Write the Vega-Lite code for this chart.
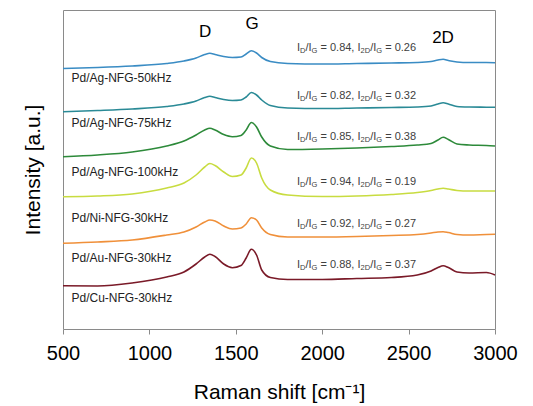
{
  "$schema": "https://vega.github.io/schema/vega-lite/v6.json",
  "autosize": "none",
  "width": 432,
  "height": 319,
  "padding": {"left": 63, "top": 10, "right": 38, "bottom": 77},
  "background": "white",
  "config": {"view": {"stroke": "#8a8a8a", "strokeWidth": 1}, "font": "Liberation Sans"},
  "datasets": {
    "spectra": [
      {"shift": 500, "ag50": 260.5, "ag75": 217.3, "ag100": 172.3, "ni": 132.3, "au": 85.7, "cu": 43.3},
      {"shift": 700, "ag50": 261.5, "ag75": 218.5, "ag100": 174, "ni": 133, "au": 87, "cu": 43},
      {"shift": 900, "ag50": 263, "ag75": 220, "ag100": 177, "ni": 135, "au": 89, "cu": 46},
      {"shift": 1100, "ag50": 265.5, "ag75": 222.5, "ag100": 183, "ni": 141, "au": 94, "cu": 52},
      {"shift": 1200, "ag50": 268, "ag75": 225, "ag100": 188, "ni": 146, "au": 97, "cu": 57},
      {"shift": 1270, "ag50": 271, "ag75": 228, "ag100": 194, "ni": 154, "au": 102, "cu": 65},
      {"shift": 1320, "ag50": 274.5, "ag75": 231.5, "ag100": 199, "ni": 162, "au": 107, "cu": 72},
      {"shift": 1350, "ag50": 275.7, "ag75": 232.7, "ag100": 200.7, "ni": 165.5, "au": 109, "cu": 74.7},
      {"shift": 1380, "ag50": 274.5, "ag75": 231.5, "ag100": 199, "ni": 163.5, "au": 108, "cu": 72.5},
      {"shift": 1430, "ag50": 272.5, "ag75": 229.5, "ag100": 194.5, "ni": 157, "au": 103, "cu": 65},
      {"shift": 1480, "ag50": 271.5, "ag75": 228.5, "ag100": 192.3, "ni": 152.5, "au": 100, "cu": 61.3},
      {"shift": 1530, "ag50": 272, "ag75": 229, "ag100": 193.5, "ni": 154, "au": 101, "cu": 63.5},
      {"shift": 1560, "ag50": 275, "ag75": 232, "ag100": 199, "ni": 161, "au": 105, "cu": 71},
      {"shift": 1590, "ag50": 278.2, "ag75": 236.5, "ag100": 206.5, "ni": 171, "au": 111.3, "cu": 79.7},
      {"shift": 1620, "ag50": 276, "ag75": 234, "ag100": 202, "ni": 166, "au": 109, "cu": 74},
      {"shift": 1650, "ag50": 271.5, "ag75": 229, "ag100": 192, "ni": 151, "au": 101, "cu": 59},
      {"shift": 1700, "ag50": 267.5, "ag75": 223.5, "ag100": 183, "ni": 139, "au": 94.5, "cu": 51.5},
      {"shift": 1800, "ag50": 265.5, "ag75": 221, "ag100": 179.5, "ni": 134, "au": 92, "cu": 49.5},
      {"shift": 2000, "ag50": 265, "ag75": 220.5, "ag100": 180, "ni": 132.5, "au": 92, "cu": 49.5},
      {"shift": 2200, "ag50": 265.5, "ag75": 221, "ag100": 181, "ni": 133, "au": 92.5, "cu": 50.5},
      {"shift": 2400, "ag50": 266, "ag75": 221.5, "ag100": 182.5, "ni": 134.5, "au": 93.5, "cu": 51.5},
      {"shift": 2550, "ag50": 266.5, "ag75": 222, "ag100": 184, "ni": 136.5, "au": 94.5, "cu": 54},
      {"shift": 2630, "ag50": 267.5, "ag75": 223, "ag100": 185.5, "ni": 138.5, "au": 96, "cu": 58},
      {"shift": 2670, "ag50": 269, "ag75": 225, "ag100": 189, "ni": 140, "au": 97, "cu": 61.5},
      {"shift": 2700, "ag50": 269.7, "ag75": 226.3, "ag100": 191.7, "ni": 140.7, "au": 97.3, "cu": 63.3},
      {"shift": 2730, "ag50": 268.5, "ag75": 225, "ag100": 189.5, "ni": 140, "au": 96.5, "cu": 61.5},
      {"shift": 2780, "ag50": 267, "ag75": 222.5, "ag100": 185, "ni": 138.5, "au": 94.5, "cu": 57},
      {"shift": 2850, "ag50": 266.5, "ag75": 222, "ag100": 184, "ni": 138, "au": 94, "cu": 56},
      {"shift": 2950, "ag50": 266.5, "ag75": 221.8, "ag100": 183.5, "ni": 138, "au": 94.5, "cu": 56.5},
      {"shift": 3000, "ag50": 266.3, "ag75": 221.7, "ag100": 183, "ni": 138, "au": 94.7, "cu": 54}
    ],
    "samples": [
      {"label": "Pd/Ag-NFG-50kHz", "shift": 549, "intensity": 251},
      {"label": "Pd/Ag-NFG-75kHz", "shift": 549, "intensity": 206},
      {"label": "Pd/Ag-NFG-100kHz", "shift": 549, "intensity": 157},
      {"label": "Pd/Ni-NFG-30kHz", "shift": 549, "intensity": 111.5},
      {"label": "Pd/Au-NFG-30kHz", "shift": 549, "intensity": 71.3},
      {"label": "Pd/Cu-NFG-30kHz", "shift": 549, "intensity": 31}
    ],
    "peaks": [
      {"label": "D", "shift": 1322, "intensity": 297},
      {"label": "G", "shift": 1594, "intensity": 305},
      {"label": "2D", "shift": 2699, "intensity": 291}
    ],
    "ratios": [
      {"shift": 1854, "intensity": 281, "mid": "= 0.84, I", "end": "= 0.26"},
      {"shift": 1854, "intensity": 233, "mid": "= 0.82, I", "end": "= 0.32"},
      {"shift": 1854, "intensity": 191.7, "mid": "= 0.85, I", "end": "= 0.38"},
      {"shift": 1854, "intensity": 146.7, "mid": "= 0.94, I", "end": "= 0.19"},
      {"shift": 1854, "intensity": 104.7, "mid": "= 0.92, I", "end": "= 0.27"},
      {"shift": 1854, "intensity": 64, "mid": "= 0.88, I", "end": "= 0.37"}
    ]
  },
  "layer": [
    {
      "data": {"name": "spectra"},
      "transform": [{"fold": ["ag50", "ag75", "ag100", "ni", "au", "cu"], "as": ["sample", "intensity"]}],
      "mark": {"type": "line", "strokeWidth": 1.6, "interpolate": "monotone"},
      "encoding": {
        "x": {
          "field": "shift", "type": "quantitative",
          "scale": {"domain": [500, 3000], "nice": false, "zero": false},
          "axis": {
            "title": "Raman shift [cm⁻¹]", "values": [500, 1000, 1500, 2000, 2500, 3000], "format": "d",
            "grid": false, "domain": false, "tickColor": "#8a8a8a", "tickSize": 5,
            "labelFontSize": 20, "labelColor": "#000", "labelPadding": 9, "labelFlush": false,
            "labelFont": "Liberation Sans", "titleFont": "Liberation Sans",
            "titleFontSize": 21, "titleFontWeight": "normal", "titleColor": "#000", "titlePadding": 18
          }
        },
        "y": {
          "field": "intensity", "type": "quantitative",
          "scale": {"domain": [0, 319], "nice": false, "zero": false},
          "axis": {
            "title": "Intensity [a.u.]", "grid": false, "domain": false, "ticks": false, "labels": false,
            "titleFont": "Liberation Sans", "titleFontSize": 21, "titleFontWeight": "normal",
            "titleColor": "#000", "titlePadding": 20
          }
        },
        "color": {
          "field": "sample", "type": "nominal",
          "scale": {"domain": ["ag50", "ag75", "ag100", "ni", "au", "cu"],
                    "range": ["#3a8cc4", "#2a8a96", "#2d8a3a", "#c8dc40", "#f0903a", "#7a1a28"]},
          "legend": null
        },
        "detail": {"field": "sample"}
      }
    },
    {
      "data": {"name": "samples"},
      "mark": {"type": "text", "align": "left", "baseline": "middle", "fontSize": 12, "font": "Liberation Sans", "color": "#222"},
      "encoding": {
        "x": {"field": "shift", "type": "quantitative"},
        "y": {"field": "intensity", "type": "quantitative"},
        "text": {"field": "label"}
      }
    },
    {
      "data": {"name": "peaks"},
      "mark": {"type": "text", "align": "center", "baseline": "middle", "fontSize": 17, "font": "Liberation Sans", "color": "#000"},
      "encoding": {
        "x": {"field": "shift", "type": "quantitative"},
        "y": {"field": "intensity", "type": "quantitative"},
        "text": {"field": "label"}
      }
    },
    {
      "data": {"name": "ratios"},
      "encoding": {
        "x": {"field": "shift", "type": "quantitative"},
        "y": {"field": "intensity", "type": "quantitative"}
      },
      "layer": [
        {"mark": {"type": "text", "text": "I", "align": "left", "baseline": "middle", "fontSize": 11, "font": "Liberation Sans", "color": "#404040", "dx": 0}},
        {"mark": {"type": "text", "text": "D", "align": "left", "baseline": "middle", "fontSize": 7.5, "font": "Liberation Sans", "color": "#404040", "dx": 3.06, "dy": 3}},
        {"mark": {"type": "text", "text": "/I", "align": "left", "baseline": "middle", "fontSize": 11, "font": "Liberation Sans", "color": "#404040", "dx": 8.48}},
        {"mark": {"type": "text", "text": "G", "align": "left", "baseline": "middle", "fontSize": 7.5, "font": "Liberation Sans", "color": "#404040", "dx": 14.6, "dy": 3}},
        {"mark": {"type": "text", "align": "left", "baseline": "middle", "fontSize": 11, "font": "Liberation Sans", "color": "#404040", "dx": 23.5}, "encoding": {"text": {"field": "mid"}}},
        {"mark": {"type": "text", "text": "2D", "align": "left", "baseline": "middle", "fontSize": 7.5, "font": "Liberation Sans", "color": "#404040", "dx": 63.58, "dy": 3}},
        {"mark": {"type": "text", "text": "/I", "align": "left", "baseline": "middle", "fontSize": 11, "font": "Liberation Sans", "color": "#404040", "dx": 73.17}},
        {"mark": {"type": "text", "text": "G", "align": "left", "baseline": "middle", "fontSize": 7.5, "font": "Liberation Sans", "color": "#404040", "dx": 79.29, "dy": 3}},
        {"mark": {"type": "text", "align": "left", "baseline": "middle", "fontSize": 11, "font": "Liberation Sans", "color": "#404040", "dx": 88.19}, "encoding": {"text": {"field": "end"}}}
      ]
    }
  ]
}
